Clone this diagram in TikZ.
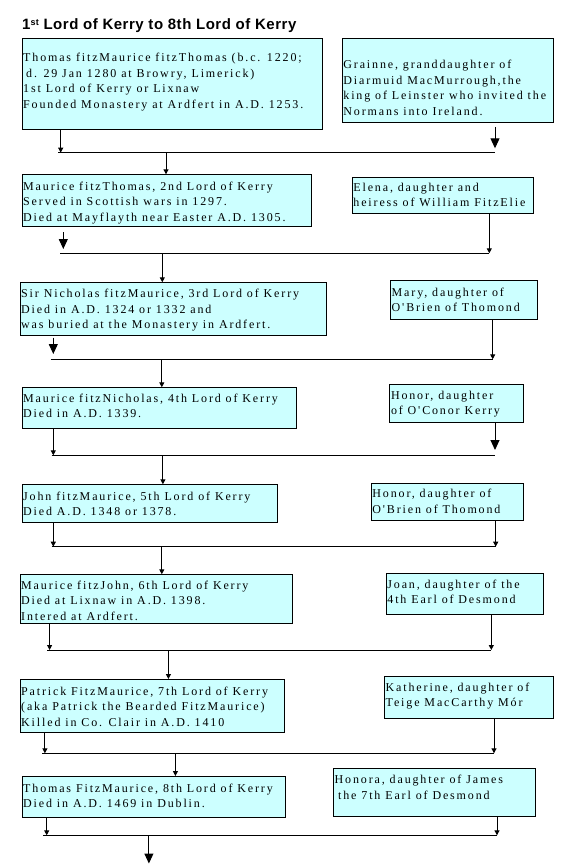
\documentclass[tikz,border=0pt]{standalone}
\usepackage{fontspec}
\usetikzlibrary{arrows.meta}
\newfontfamily\boxfontfam[Ligatures=TeXOff,LetterSpace=15.5]{Liberation Serif}
\newfontfamily\titlefontfam[LetterSpace=3.5]{Liberation Sans}
\definecolor{boxcyan}{RGB}{204,255,255}
\tikzset{
  fambox/.style={draw=black, line width=1pt, fill=boxcyan, inner sep=0pt, anchor=north west},
  famtxt/.style={inner sep=0pt, anchor=base west, font=\boxfontfam\fontsize{12}{15.5}\selectfont},
  titletxt/.style={inner sep=0pt, anchor=base west, font=\titlefontfam\bfseries\fontsize{15}{18}\selectfont},
  link/.style={line width=1pt},
  smallarr/.style={line width=1pt, -{Triangle[width=5pt,length=5pt]}},
  bigarr/.style={line width=1pt, -{Triangle[width=9pt,length=10pt]}},
}
\newcommand{\FamBox}[5]{\node[fambox, minimum width={(#4)-(#2)}, minimum height={(#5)-(#3)}] (#1) at (#2,#3) {};}
\newcommand{\FamText}[4]{\node[famtxt] (#1) at (#2,#3) {\begin{tabular}[t]{@{}l@{}}#4\end{tabular}};}
\begin{document}
\begin{tikzpicture}[x=1pt,y=-1pt]
\useasboundingbox[fill=white] (0,0) rectangle (577,864);

\node[titletxt] (title) at (22,30) {1\raisebox{4.6pt}{\fontsize{9}{9}\selectfont st} Lord of Kerry to 8th Lord of Kerry};

% ---------- boxes ----------
\FamBox{a1}{21.5}{38.3}{321.7}{129.3}
\FamBox{b1}{341.7}{38.3}{552.7}{122}
\FamBox{a2}{21.5}{174.3}{310.5}{226}
\FamBox{b2}{351.7}{176.7}{533.3}{212.7}
\FamBox{a3}{19.5}{282.3}{326}{335}
\FamBox{b3}{390}{280.3}{537}{319}
\FamBox{a4}{21.5}{387.3}{295.5}{428.3}
\FamBox{b4}{389.3}{384.3}{523.3}{422.3}
\FamBox{a5}{21.5}{484.3}{276.5}{521.7}
\FamBox{b5}{370.7}{483.3}{523.3}{520.3}
\FamBox{a6}{19.5}{574.3}{292.3}{623.3}
\FamBox{b6}{385.7}{573.3}{543.3}{614}
\FamBox{a7}{19.5}{679}{284.2}{731.7}
\FamBox{b7}{384}{676.3}{553.3}{718.3}
\FamBox{a8}{21.5}{776}{285}{816.7}
\FamBox{b8}{333}{768.3}{535}{815.7}

% ---------- texts ----------
\FamText{a1t}{23}{62}{Thomas fitzMaurice fitzThomas (b.c. 1220;\\\hspace{3pt}d. 29 Jan 1280 at Browry, Limerick)\\1st Lord of Kerry or Lixnaw\\Founded Monastery at Ardfert in A.D. 1253.}
\FamText{b1t}{343.2}{68.7}{Grainne, granddaughter of\\Diarmuid MacMurrough,the\\king of Leinster who invited the\\Normans into Ireland.}
\FamText{a2t}{23}{190.4}{Maurice fitzThomas, 2nd Lord of Kerry\\Served in Scottish wars in 1297.\\Died at Mayflayth near Easter A.D. 1305.}
\FamText{b2t}{353.2}{191}{Elena, daughter and\\heiress of William FitzElie}
\FamText{a3t}{21}{297.7}{Sir Nicholas fitzMaurice, 3rd Lord of Kerry\\Died in A.D. 1324 or 1332 and\\was buried at the Monastery in Ardfert.}
\FamText{b3t}{391.5}{296}{Mary, daughter of\\O'Brien of Thomond}
\FamText{a4t}{23}{402}{Maurice fitzNicholas, 4th Lord of Kerry\\Died in A.D. 1339.}
\FamText{b4t}{390.8}{399.4}{Honor, daughter\\of O'Conor Kerry}
\FamText{a5t}{23}{500.4}{John fitzMaurice, 5th Lord of Kerry\\Died A.D. 1348 or 1378.}
\FamText{b5t}{372.2}{497.7}{Honor, daughter of\\O'Brien of Thomond}
\FamText{a6t}{21}{589.4}{Maurice fitzJohn, 6th Lord of Kerry\\Died at Lixnaw in A.D. 1398.\\Intered at Ardfert.}
\FamText{b6t}{387.2}{588}{Joan, daughter of the\\4th Earl of Desmond}
\FamText{a7t}{21}{695.4}{Patrick FitzMaurice, 7th Lord of Kerry\\(aka Patrick the Bearded FitzMaurice)\\Killed in Co. Clair in A.D. 1410}
\FamText{b7t}{385.5}{691.4}{Katherine, daughter of\\Teige MacCarthy Mór}
\FamText{a8t}{23}{792}{Thomas FitzMaurice, 8th Lord of Kerry\\Died in A.D. 1469 in Dublin.}
\FamText{b8t}{334.5}{783.7}{Honora, daughter of James\\\hspace{3.5pt}the 7th Earl of Desmond}

% ---------- junctions ----------
% generation 1
\coordinate (h1s) at (58,152.7);   \coordinate (j1a) at (60.7,152.7);
\coordinate (j1b) at (495,152.7);  \coordinate (j1c) at (166,152.7);
% generation 2
\coordinate (h2s) at (60,253.3);   \coordinate (j2a) at (63.3,253.3);
\coordinate (j2b) at (489.3,253.3);\coordinate (j2c) at (162.3,253.3);
% generation 3
\coordinate (h3s) at (50.5,359.3); \coordinate (j3a) at (53.3,359.3);
\coordinate (j3b) at (492.7,359.3);\coordinate (j3c) at (161.8,359.3);
% generation 4
\coordinate (h4s) at (51.5,455.3); \coordinate (j4a) at (53.3,455.3);
\coordinate (j4b) at (495,455.3);  \coordinate (j4c) at (162.9,455.3);
% generation 5
\coordinate (h5s) at (51.5,546.7); \coordinate (j5a) at (53.3,546.7);
\coordinate (j5b) at (495.7,546.7);\coordinate (j5c) at (161.8,546.7);
% generation 6
\coordinate (h6s) at (47,650);     \coordinate (j6a) at (49.6,650);
\coordinate (j6b) at (491.3,650);  \coordinate (j6c) at (168.4,650);
% generation 7
\coordinate (h7s) at (42.3,753.3); \coordinate (j7a) at (44.9,753.3);
\coordinate (j7b) at (494,753.3);  \coordinate (j7c) at (175.4,753.3);
% generation 8
\coordinate (h8s) at (43.4,835.3); \coordinate (j8a) at (46.7,835.3);
\coordinate (j8b) at (497,835.3);  \coordinate (j8c) at (148.9,835.3);
\coordinate (end) at (148.9,863.5);

% ---------- connectors ----------
\draw[link] (h1s) -- (j1b);
\draw[smallarr] (a1.south -| j1a) -- (j1a);
\draw[bigarr, shorten <=4pt, shorten >=4.4pt] (b1.south -| j1b) -- (j1b);
\draw[smallarr] (j1c) -- (j1c |- a2.north);

\draw[link] (h2s) -- (j2b);
\draw[bigarr, shorten <=5pt, shorten >=4.3pt] (a2.south -| j2a) -- (j2a);
\draw[smallarr] (b2.south -| j2b) -- (j2b);
\draw[smallarr] (j2c) -- (j2c |- a3.north);

\draw[link] (h3s) -- (j3b);
\draw[bigarr, shorten <=1.7pt, shorten >=5.3pt] (a3.south -| j3a) -- (j3a);
\draw[smallarr] (b3.south -| j3b) -- (j3b);
\draw[smallarr] (j3c) -- (j3c |- a4.north);

\draw[link] (h4s) -- (j4b);
\draw[smallarr] (a4.south -| j4a) -- (j4a);
\draw[bigarr, shorten >=5.3pt] (b4.south -| j4b) -- (j4b);
\draw[smallarr] (j4c) -- (j4c |- a5.north);

\draw[link] (h5s) -- (j5b);
\draw[smallarr] (a5.south -| j5a) -- (j5a);
\draw[smallarr] (b5.south -| j5b) -- (j5b);
\draw[smallarr] (j5c) -- (j5c |- a6.north);

\draw[link] (h6s) -- (j6b);
\draw[smallarr] (a6.south -| j6a) -- (j6a);
\draw[smallarr] (b6.south -| j6b) -- (j6b);
\draw[smallarr] (j6c) -- (j6c |- a7.north);

\draw[link] (h7s) -- (j7b);
\draw[smallarr] (a7.south -| j7a) -- (j7a);
\draw[smallarr] (b7.south -| j7b) -- (j7b);
\draw[smallarr] (j7c) -- (j7c |- a8.north);

\draw[link] (h8s) -- (j8b);
\draw[smallarr] (a8.south -| j8a) -- (j8a);
\draw[smallarr] (b8.south -| j8b) -- (j8b);
\draw[bigarr] (j8c) -- (end);
\end{tikzpicture}
\end{document}
